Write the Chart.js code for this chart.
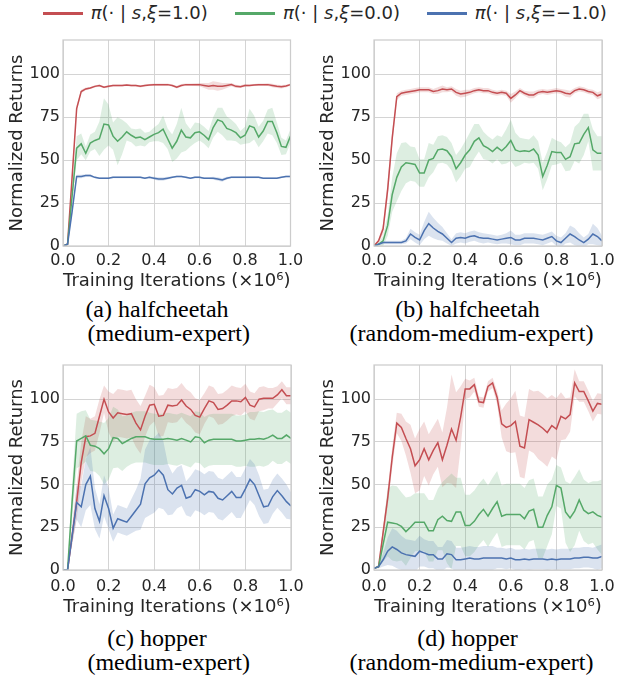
<!DOCTYPE html>
<html>
<head>
<meta charset="utf-8">
<script src="https://cdn.jsdelivr.net/npm/chart.js@4.4.1/dist/chart.umd.min.js"></script>
<style>
  body { margin: 0; background: #fff; width: 617px; height: 676px; position: relative; overflow: hidden; font-family: "DejaVu Sans"; }
  canvas { position: absolute; }
  .key { position: absolute; top: 11.8px; width: 40px; height: 3px; }
  .lab { position: absolute; top: 4px; font-size: 18px; line-height: 18px; color: #262626; white-space: nowrap; }
  .cap { position: absolute; width: 400px; text-align: center; font-family: "Liberation Serif"; font-size: 24px; line-height: 24px; color: #000; white-space: nowrap; }
</style>
</head>
<body>
<div class="key" style="left:42.7px;background:#c44e52"></div>
<div class="lab" style="left:90.7px"><i>π</i>(· | <i>s</i>,<i>ξ</i>=1.0)</div>
<div class="key" style="left:235px;background:#55a868"></div>
<div class="lab" style="left:283px"><i>π</i>(· | <i>s</i>,<i>ξ</i>=0.0)</div>
<div class="key" style="left:427px;background:#4c72b0"></div>
<div class="lab" style="left:474.7px"><i>π</i>(· | <i>s</i>,<i>ξ</i>=−1.0)</div>

<canvas id="pa" width="305" height="265" style="left:0;top:30px"></canvas>
<canvas id="pb" width="305" height="265" style="left:310px;top:30px"></canvas>
<canvas id="pc" width="305" height="265" style="left:0;top:355px"></canvas>
<canvas id="pd" width="305" height="265" style="left:310px;top:355px"></canvas>

<div class="cap" style="left:-43px;top:297.4px">(a) halfcheetah</div>
<div class="cap" style="left:-31.3px;top:321px">(medium-expert)</div>
<div class="cap" style="left:267.5px;top:297.4px">(b) halfcheetah</div>
<div class="cap" style="left:271.5px;top:321px">(random-medium-expert)</div>
<div class="cap" style="left:-43px;top:625.6px">(c) hopper</div>
<div class="cap" style="left:-31.3px;top:649.7px">(medium-expert)</div>
<div class="cap" style="left:267.5px;top:625.6px">(d) hopper</div>
<div class="cap" style="left:271.5px;top:649.7px">(random-medium-expert)</div>

<script>
// training iterations (x 10^6), one evaluation every 20k steps
const iters = [0, 0.02, 0.04, 0.06, 0.08, 0.1, 0.12, 0.14, 0.16, 0.18, 0.2, 0.22, 0.24, 0.26, 0.28, 0.3, 0.32, 0.34, 0.36, 0.38, 0.4, 0.42, 0.44, 0.46, 0.48, 0.5, 0.52, 0.54, 0.56, 0.58, 0.6, 0.62, 0.64, 0.66, 0.68, 0.7, 0.72, 0.74, 0.76, 0.78, 0.8, 0.82, 0.84, 0.86, 0.88, 0.9, 0.92, 0.94, 0.96, 0.98, 1.0];
const xTicks = [0, 0.2, 0.4, 0.6, 0.8, 1.0];
const yTicks = [0, 25, 50, 75, 100];

// (a) halfcheetah medium-expert
const aRed = [0,1,40,80,90, 91.5,92,93,93.5,92.5, 93,93.5,93.5,93.5,93.8, 93.5,93.5,93,93.5,93.8, 94,94,94,94,93.5, 92.5,93.5,94,94,94, 94,93.5,93,93.5,93, 93,93.5,94,93,92.8, 93.5,93.5,93.8,94,94, 94,93.5,93,92.8,93.2, 94];
const aRedSd = [0,0.5,3,2,1, 0.8,0.6,0.6,0.6,0.6, 0.6,0.6,0.6,0.6,0.6, 0.6,0.6,0.6,0.6,0.6, 0.6,0.6,0.6,0.6,0.6, 0.8,0.8,0.6,0.6,0.8, 1,1.5,2,2.5,2.5, 2,1.5,1,1,0.8, 0.8,0.6,0.6,0.6,0.6, 0.8,1,1,1,0.8, 0.6];
const aGreen = [0,1,29,57,59.5, 54,60,61.5,62.5,71, 70.5,64,61,63.5,66.5, 64.5,63,63.5,62,63.5, 65,66,68,62.5,57, 61,67.5,63.5,63,66, 66.5,64.5,62,69,73.5, 72.5,68.5,67.5,66,63, 64.5,70,69,63.5,67, 72.5,72.5,66,58,57.5, 64];
const aGreenSd = [0,1,4,7,6, 4,5,5,10,15, 12,8,14,10,5, 4,5,5,4,3, 4,5,8,6,8, 10,13,8,5,6, 5,5,5,6,7, 8,7,6,5,4, 5,10,7,6,6, 7,8,6,5,4, 4];
const aBlue = [0,1,20,40.5,40.5, 41,41,40,39.5,39.5, 39.5,40,40,40,40, 40,40,40,39.5,40, 39.5,39,39,39.5,40, 40.5,40.5,40,39.5,40, 40,39.5,39.5,39.5,39, 38.5,39.5,40,40,40, 40,40,40,40,39.5, 39.5,39.5,39.5,40,40.5, 40.5];
const aBlueSd = [0,0.5,2,1,1, 0.8,0.8,0.5,0.5,0.5, 0.5,0.5,0.5,0.5,0.5, 0.5,0.5,0.5,0.5,0.5, 0.8,1,1,0.8,0.5, 0.5,0.5,0.5,0.5,0.5, 0.5,0.5,0.5,0.8,1, 1,0.8,0.5,0.5,0.5, 0.5,0.5,0.5,0.5,0.5, 0.5,0.5,0.5,0.5,0.5, 0.5];

// (b) halfcheetah random-medium-expert
const bRed = [0,3,10,33,63, 87,89,89.5,90,90.5, 91,91,91,90,90.5, 91.5,91,91.5,89.5,88.5, 89,89.5,90.5,91,90.5, 90.5,89.5,89,89.5,89, 86,88,90.5,89,88, 88,89.5,90,89.5,90, 90.5,90,89,88.5,90.5, 91.5,91,90,89.5,87.5, 88.5];
const bRedSd = [0,1,3,5,4, 2,1.5,1.5,1.5,1.5, 1.5,1.5,1.5,1.5,2, 2,1.5,1.5,2,2, 2,1.5,1.5,1.5,1.5, 1.5,1.5,1.5,1.5,1.5, 2.5,2,1.5,1.5,2, 2,1.5,1.5,1.5,1.5, 1.5,1.5,2,2,1.5, 1.5,1.5,1.5,1.5,2, 2];
const bGreen = [0,1,3,12,30, 40,46,48.5,48,47.5, 42.5,42.5,50,51,56, 56.5,55.5,52,45,48.5, 53,56,61,63,58.5, 57,55,57.5,55.5,58, 61.5,56,55,55.5,55, 56.5,53,40.5,47,55, 54.5,54.5,50.5,52,59.5, 60,65,69,56,54, 54];
const bGreenSd = [0,1,3,6,10, 14,14,12,10,10, 8,8,10,8,8, 8,8,8,8,8, 8,10,10,8,8, 7,7,7,8,10, 12,10,8,7,7, 8,8,8,8,8, 7,6,7,8,10, 12,12,8,12,10, 10];
const bBlue = [0,1,2,2,2, 2,2,3,7,5, 3.5,9,13,10.5,8.5, 7,4.5,2,4.5,5, 4.5,5.5,6,5,4.5, 4.5,4,3.5,4,4.5, 5,3.5,3.5,4.5,4.5, 4.5,4,3.5,4.5,5.5, 3,2,4.5,7,5.5, 3.5,2,4,7,5.5, 3];
const bBlueSd = [0,0.5,1,1,1, 1,1,1.5,3,3, 3,5,7,6,5, 4,3,2,3,3, 3,3,3,3,3, 2.5,2.5,2.5,2.5,3, 4,3,3,3,3, 3,3,3,3,3, 3,3,3,5,5, 4,3,3,6,5, 3];

// (c) hopper medium-expert
const cRed = [0,0,20,40,63, 78,78.5,80,90,100, 92.5,89,92,91.5,91, 91.5,86,82,90,96.5, 97,90,90.5,96.5,96, 96.5,99.5,96,94,90.5, 89.5,94.5,99,98,94, 94.5,96.5,99,99,98.5, 101,96.5,95.5,100,100.5, 100.5,100.5,102.5,105.5,102, 102];
const cRedSd = [0,0,5,10,12, 12,10,10,10,8, 12,14,14,14,14, 14,14,14,12,12, 10,12,12,10,10, 10,10,10,10,10, 10,9,9,9,9, 9,9,9,8,8, 8,8,8,7,7, 6,6,5,5,5, 5];
const cGreen = [0,0,40,75.5,77, 78.5,73,72.5,71,68, 71,77.5,77,74,75.5, 77,78,78,78,77, 76.5,76.5,76.5,77,76.5, 76,77,76,75,78, 77.5,74.5,76,76.5,76.5, 76.5,76.5,76.5,75.5,75.5, 76,76.5,76.5,77,76.5, 77.5,79,77,77,79, 77];
const cGreenSd = [0,0,10,16,16, 15,15,15,16,18, 18,18,17,16,15, 15,15,15,15,15, 15,15,15,15,15, 15,15,15,15,15, 15,15,15,15,15, 15,15,15,15,15, 15,16,16,16,16, 16,15,15,15,15, 15];
const cBlue = [0,0,20,39.5,37, 50,55,36,28.5,43.5, 36,24.5,30,29,28, 31.5,35,38.5,50.5,54, 55.5,58.5,55.5,47,44.5, 48,49.5,42,43,47, 46,44,46,45.5,42, 41,43.5,46,42.5,42.5, 47.5,53,50,43.5,37, 37.5,43,46.5,43.5,40, 37.5];
const cBlueSd = [0,0,5,10,12, 15,17,12,10,12, 12,8,8,8,8, 10,12,15,20,22, 22,22,20,15,12, 12,12,10,12,12, 12,12,12,12,12, 12,12,12,12,12, 12,12,12,12,10, 10,10,10,10,10, 8];

// (d) hopper random-medium-expert
const dRed = [1,2,22,42,66, 86,83.5,77,71,61, 64.5,71,64.5,70,74.5, 64.5,73,82.5,76,89.5, 106,106,108.5,98.5,98, 107.5,109.5,101,85.5,83.5, 84.5,87,72.5,71.5,88, 86.5,85,83,80.5,84.5, 82.5,90,88.5,91,109.5, 104.5,104.5,99,93,97.5, 97];
const dRedSd = [0,1,3,5,6, 6,8,10,14,16, 18,16,15,14,14, 16,22,32,28,18, 6,5,4,3,3, 3,3,4,8,14, 16,18,18,18,18, 18,20,20,20,18, 18,14,12,10,8, 6,6,6,6,6, 6];
const dGreen = [1,2,15,28,27.5, 27,25.5,22.5,25,28, 28,28,23,23,29.5, 31.5,29,28.5,34,34, 26,26,28.5,32.5,35.5, 31.5,36,40,31.5,32.5, 32.5,32.5,32.5,30,34.5, 35.5,25,25,32,37, 49.5,48,34,30.5,34.5, 41,35,33,34,32, 31];
const dGreenSd = [0,1,10,20,22, 22,20,20,18,17, 17,17,18,18,18, 20,25,28,20,20, 18,18,18,18,18, 18,18,18,18,18, 18,18,18,18,18, 18,18,18,18,16, 12,12,18,20,20, 18,18,18,18,20, 22];
const dBlue = [1,2,6,11,13.5, 12,10,9,8.5,8, 11,10,9,9,6.5, 6.5,9.5,9,6,6, 6.5,7,6.5,6.5,7, 7,7,7,7,6.5, 7,6,6,6.5,6, 6.5,6.5,6.5,6,6.5, 6,6.5,6.5,6.5,7, 7,7.5,7.5,7,7, 8];
const dBlueSd = [0,1,4,8,11, 11,10,9,9,9, 9,8,8,8,7, 7,8,8,7,7, 7,7,7,7,7, 7,7,6,6,6, 6,6,6,6,6, 6,6,6,6,6, 6,6,6,6,6, 6,6,6,6,7, 7];

const RED = '#c44e52', GREEN = '#55a868', BLUE = '#4c72b0';
const RED_BAND = 'rgba(196,78,82,0.2)', GREEN_BAND = 'rgba(85,168,104,0.2)', BLUE_BAND = 'rgba(76,114,176,0.2)';
const INK = '#262626';

const toPoints = (ys, sd, sign) => iters.map((x, i) => ({ x, y: ys[i] + sign * (sd ? sd[i] : 0) }));

const meanLine = (ys, color) => ({ data: toPoints(ys, null, 0), borderColor: color, borderWidth: 1.5, pointRadius: 0, fill: false, tension: 0 });
const bandTop = (ys, sd, color) => ({ data: toPoints(ys, sd, 1), borderWidth: 0, borderColor: 'rgba(0,0,0,0)', pointRadius: 0, fill: '+1', backgroundColor: color });
const bandBottom = (ys, sd) => ({ data: toPoints(ys, sd, -1), borderWidth: 0, borderColor: 'rgba(0,0,0,0)', pointRadius: 0, fill: false });

const framePlugin = {
    id: 'frame',
    afterDatasetsDraw(chart) {
        const { ctx, chartArea: a } = chart;
        ctx.save();
        ctx.strokeStyle = '#cccccc';
        ctx.lineWidth = 1.25;
        ctx.strokeRect(a.left, a.top, a.right - a.left, a.bottom - a.top);
        ctx.restore();
    }
};

function makePanel(id, s, geo) {
    [s.red, s.redSd, s.green, s.greenSd, s.blue, s.blueSd].forEach(arr => {
        if (arr.length !== iters.length) throw new Error(id + ' series length ' + arr.length);
    });
    new Chart(document.getElementById(id), {
        type: 'line',
        data: {
            datasets: [
                meanLine(s.blue, BLUE), meanLine(s.green, GREEN), meanLine(s.red, RED),
                bandTop(s.blue, s.blueSd, BLUE_BAND), bandBottom(s.blue, s.blueSd),
                bandTop(s.green, s.greenSd, GREEN_BAND), bandBottom(s.green, s.greenSd),
                bandTop(s.red, s.redSd, RED_BAND), bandBottom(s.red, s.redSd)
            ]
        },
        options: {
            responsive: false,
            animation: false,
            events: [],
            layout: { padding: { left: 0, top: geo.padTop, right: geo.padRight, bottom: 0 } },
            plugins: { legend: { display: false }, tooltip: { enabled: false } },
            scales: {
                x: {
                    type: 'linear', min: 0, max: 1,
                    afterBuildTicks: sc => { sc.ticks = xTicks.map(v => ({ value: v })); },
                    afterFit: sc => { sc.height = geo.xH; sc.paddingLeft = 0; sc.paddingRight = 0; },
                    ticks: { callback: v => v.toFixed(1), font: { family: 'DejaVu Sans', size: 16 }, color: INK, padding: geo.tickPad, maxRotation: 0, autoSkip: false },
                    grid: { color: '#d4d4d4', lineWidth: 1, drawTicks: false },
                    border: { display: false },
                    title: { display: true, text: 'Training Iterations (×10⁶)', font: { family: 'DejaVu Sans', size: 18 }, color: INK, padding: { top: 0, bottom: geo.xTitlePad } }
                },
                y: {
                    min: 0, max: 120,
                    afterBuildTicks: sc => { sc.ticks = yTicks.map(v => ({ value: v })); },
                    afterFit: sc => { sc.width = geo.yW; sc.paddingTop = 0; sc.paddingBottom = 0; },
                    ticks: { font: { family: 'DejaVu Sans', size: 16 }, color: INK, padding: 3 },
                    grid: { color: '#d4d4d4', lineWidth: 1, drawTicks: false },
                    border: { display: false },
                    title: { display: true, text: 'Normalized Returns', font: { family: 'DejaVu Sans', size: 18 }, color: INK, padding: { top: geo.yTitlePad, bottom: 0 } }
                }
            }
        },
        plugins: [framePlugin]
    });
}

makePanel('pa', { red: aRed, redSd: aRedSd, green: aGreen, greenSd: aGreenSd, blue: aBlue, blueSd: aBlueSd },
    { yW: 63, padTop: 10, padRight: 14.5, xH: 49, tickPad: 5.4, xTitlePad: 3.2, yTitlePad: 6.9 });
makePanel('pb', { red: bRed, redSd: bRedSd, green: bGreen, greenSd: bGreenSd, blue: bBlue, blueSd: bBlueSd },
    { yW: 64, padTop: 10, padRight: 13, xH: 49, tickPad: 5.4, xTitlePad: 3.2, yTitlePad: 7.9 });
makePanel('pc', { red: cRed, redSd: cRedSd, green: cGreen, greenSd: cGreenSd, blue: cBlue, blueSd: cBlueSd },
    { yW: 63, padTop: 10, padRight: 14, xH: 50, tickPad: 7.4, xTitlePad: 1.8, yTitlePad: 6.9 });
makePanel('pd', { red: dRed, redSd: dRedSd, green: dGreen, greenSd: dGreenSd, blue: dBlue, blueSd: dBlueSd },
    { yW: 64, padTop: 10, padRight: 13, xH: 50, tickPad: 7.4, xTitlePad: 1.8, yTitlePad: 7.9 });
</script>
</body>
</html>
